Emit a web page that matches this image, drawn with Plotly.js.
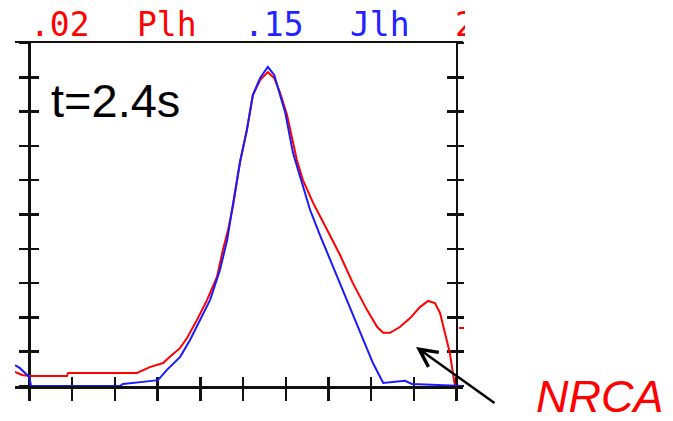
<!DOCTYPE html>
<html>
<head>
<meta charset="utf-8">
<script src="https://cdn.plot.ly/plotly-3.0.1.min.js"></script>
<style>
  html, body { margin: 0; padding: 0; background: #ffffff; }
  #chart { width: 673px; height: 421px; }
</style>
</head>
<body>
<div id="chart"></div>
<script>
// ---- data ----
var redX  = [-0.335, -0.17, 0, 0.88, 0.91, 2.52, 2.82, 3.13, 3.29, 3.53, 3.69, 3.92, 4.16, 4.39, 4.53, 4.65, 4.77, 4.93, 5.09, 5.23, 5.40, 5.58, 5.73, 5.87, 6.03, 6.26, 6.40, 6.64, 6.97, 7.27, 7.57, 7.90, 8.14, 8.28, 8.44, 8.67, 8.91, 9.14, 9.33, 9.49, 9.61, 9.73, 9.84, 9.91, 9.96];
var redY  = [0.41, 0.32, 0.29, 0.29, 0.38, 0.38, 0.55, 0.67, 0.85, 1.11, 1.40, 1.92, 2.51, 3.18, 3.97, 4.55, 5.28, 6.53, 7.46, 8.48, 8.92, 9.15, 8.98, 8.54, 7.90, 6.59, 6.01, 5.34, 4.55, 3.82, 3.00, 2.22, 1.72, 1.55, 1.55, 1.72, 1.98, 2.30, 2.48, 2.42, 2.13, 1.55, 0.96, 0.38, 0.0];
var blueX = [-0.335, -0.22, 0, 0.04, 2.12, 2.19, 2.66, 3.01, 3.22, 3.53, 3.76, 3.99, 4.23, 4.46, 4.63, 4.77, 4.93, 5.09, 5.23, 5.40, 5.58, 5.73, 5.87, 5.99, 6.17, 6.33, 6.57, 6.80, 7.11, 7.43, 7.74, 8.04, 8.28, 8.49, 8.79, 8.95, 9.61, 10.147];
var blueY = [0.61, 0.52, 0.26, 0, 0, 0.06, 0.12, 0.17, 0.47, 0.85, 1.34, 1.92, 2.51, 3.38, 4.26, 5.34, 6.53, 7.46, 8.48, 8.98, 9.30, 9.07, 8.48, 7.96, 6.79, 6.15, 5.13, 4.40, 3.47, 2.51, 1.55, 0.67, 0.09, 0.12, 0.15, 0.06, 0.03, 0];
var xTicks = [0, 1, 2, 3, 4, 5, 6, 7, 8, 9, 10];
var yTicks = [0, 1, 2, 3, 4, 5, 6, 7, 8, 9, 10];
var topLabels = [".02", "Plh", ".15", "Jlh", "2"];
var topLabelColors = ["#ff0000", "#ff0000", "#2222ff", "#2222ff", "#ff0000"];
var timeLabel = "t=2.4s";
var markerLabel = "NRCA";

// ---- layout helpers (page pixels -> paper fractions) ----
var W = 673, H = 421;
function px(x) { return x / W; }
function py(y) { return 1 - y / H; }

var AX = '#111111';
var xRange = [-0.335, 10.147];
var yRange = [0, 10];

var traces = [
  { x: redX, y: redY, mode: 'lines', line: { color: '#ff0000', width: 2 }, cliponaxis: false, hoverinfo: 'skip', showlegend: false },
  { x: blueX, y: blueY, mode: 'lines', line: { color: '#1a1aff', width: 2 }, cliponaxis: false, hoverinfo: 'skip', showlegend: false },
  // empty traces so the overlay axes (crossing ticks) get drawn
  { x: [], y: [], xaxis: 'x2', yaxis: 'y', mode: 'lines', hoverinfo: 'skip', showlegend: false },
  { x: [], y: [], xaxis: 'x', yaxis: 'y2', mode: 'lines', hoverinfo: 'skip', showlegend: false },
  { x: [], y: [], xaxis: 'x', yaxis: 'y3', mode: 'lines', hoverinfo: 'skip', showlegend: false },
  { x: [], y: [], xaxis: 'x', yaxis: 'y4', mode: 'lines', hoverinfo: 'skip', showlegend: false },
  // top strip labels (clipped at the right, like the reference)
  { x: [30, 137, 244, 350, 455], y: [27.5, 27.5, 27.5, 27.5, 27.5], xaxis: 'x5', yaxis: 'y5',
    mode: 'text', text: topLabels, textposition: 'middle right', cliponaxis: true,
    marker: { size: 0 },
    textfont: { family: 'DejaVu Sans Mono', size: 33, color: topLabelColors },
    hoverinfo: 'skip', showlegend: false }
];

var xDom = [px(15), px(463)];
var yDom = [1 - 386 / H, 1 - 43 / H];
var leftPos = px(29.3);
var rightPos = px(456.9);

var baseX = { range: xRange, domain: xDom, showgrid: false, zeroline: false, showticklabels: false, fixedrange: true, tickvals: xTicks };
var baseY = { range: yRange, domain: yDom, showgrid: false, zeroline: false, showticklabels: false, fixedrange: true, tickvals: yTicks };

var layout = {
  width: W, height: H,
  margin: { l: 0, r: 0, t: 0, b: 0, pad: 0 },
  paper_bgcolor: '#ffffff', plot_bgcolor: 'rgba(0,0,0,0)',
  showlegend: false,
  xaxis: Object.assign({}, baseX, { anchor: 'y', showline: true, linewidth: 2.5, linecolor: AX, mirror: true,
    ticks: 'outside', ticklen: 12, tickwidth: 2.5, tickcolor: AX, layer: 'below traces' }),
  xaxis2: Object.assign({}, baseX, { overlaying: 'x', anchor: 'y', showline: false,
    ticks: 'inside', ticklen: 9, tickwidth: 2.5, tickcolor: AX, layer: 'below traces' }),
  yaxis: Object.assign({}, baseY, { anchor: 'free', position: leftPos, showline: true, linewidth: 2.5, linecolor: AX,
    ticks: 'outside', ticklen: 9, tickwidth: 2.5, tickcolor: AX, layer: 'below traces' }),
  yaxis2: Object.assign({}, baseY, { overlaying: 'y', anchor: 'free', position: leftPos, showline: false,
    ticks: 'inside', ticklen: 9, tickwidth: 2.5, tickcolor: AX, layer: 'below traces' }),
  yaxis3: Object.assign({}, baseY, { overlaying: 'y', side: 'right', anchor: 'free', position: rightPos, showline: true,
    linewidth: 2.5, linecolor: AX, ticks: 'outside', ticklen: 6, tickwidth: 2.5, tickcolor: AX, layer: 'below traces' }),
  yaxis4: Object.assign({}, baseY, { overlaying: 'y', side: 'right', anchor: 'free', position: rightPos, showline: false,
    ticks: 'inside', ticklen: 10, tickwidth: 2.5, tickcolor: AX, layer: 'below traces' }),
  xaxis5: { domain: [0, px(465)], range: [0, 465], anchor: 'y5', visible: false, fixedrange: true },
  yaxis5: { domain: [1 - 40 / H, 1], range: [40, 0], anchor: 'x5', visible: false, fixedrange: true },
  shapes: [
    { type: 'line', xref: 'paper', yref: 'paper', x0: px(459), x1: px(464), y0: py(328), y1: py(328),
      line: { color: '#ff0000', width: 2 } }
  ],
  annotations: [
    { xref: 'paper', yref: 'paper', x: px(49), y: py(100), xanchor: 'left', yanchor: 'middle',
      text: timeLabel, showarrow: false, font: { family: 'Liberation Sans, Arial, sans-serif', size: 47, color: '#000000' } },
    { xref: 'paper', yref: 'paper', x: px(534), y: py(396), xanchor: 'left', yanchor: 'middle',
      text: '<i>' + markerLabel + '</i>', showarrow: false, font: { family: 'Liberation Sans, Arial, sans-serif', size: 45, color: '#ff0000' } },
    { xref: 'paper', yref: 'paper', x: px(416), y: py(347), text: '', showarrow: true,
      ax: 80, ay: 57, arrowhead: 5, arrowsize: 1.4, arrowwidth: 2.5, arrowcolor: '#000000', standoff: 0 }
  ]
};

Plotly.newPlot('chart', traces, layout, { staticPlot: true, displayModeBar: false });
</script>
</body>
</html>
